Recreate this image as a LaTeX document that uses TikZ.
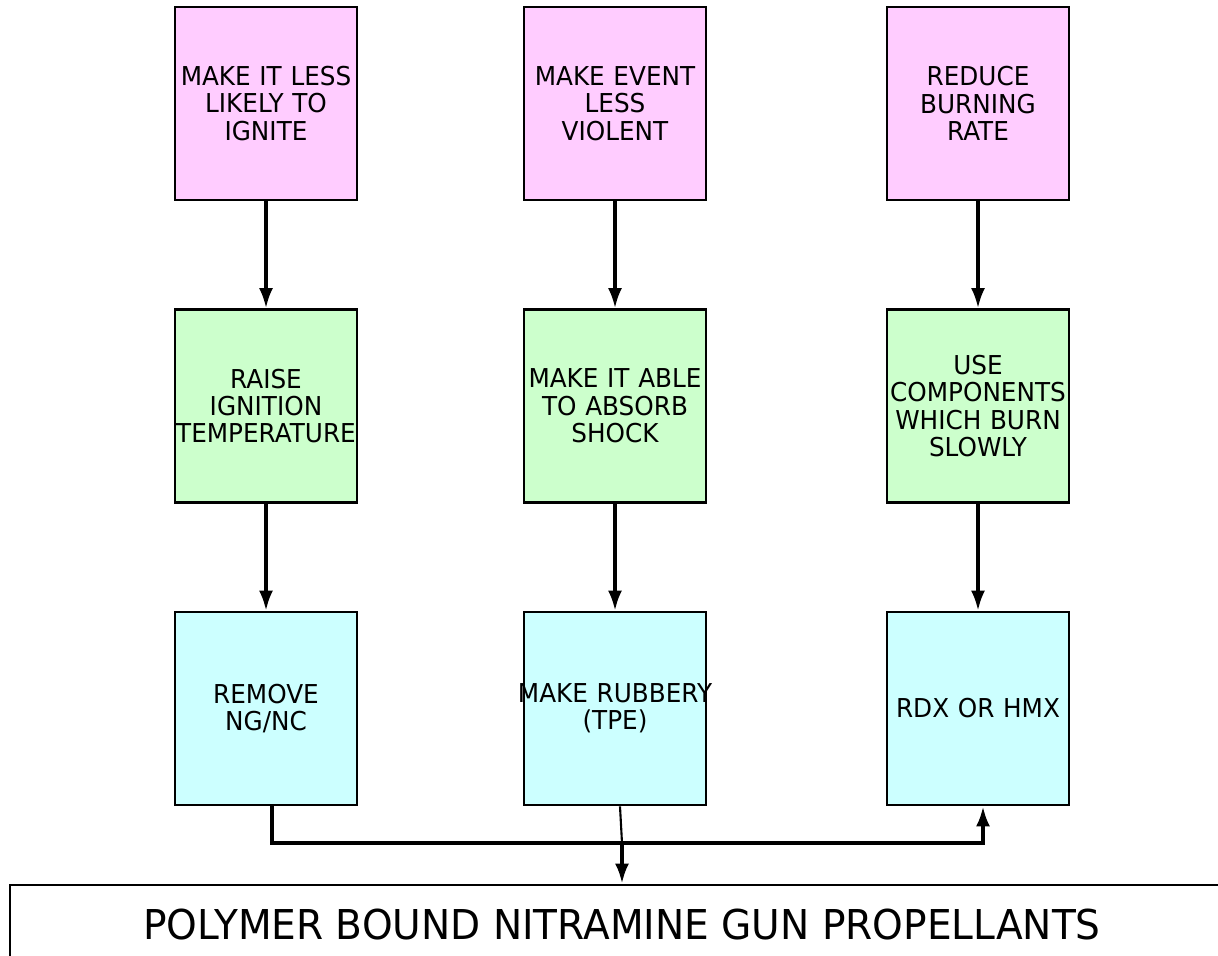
\documentclass[tikz,border=0pt]{standalone}
\usepackage{fontspec}
\setmainfont{DejaVu Sans}[FakeStretch=0.95]
\usetikzlibrary{arrows.meta}
\definecolor{goalpink}{RGB}{255,204,255}
\definecolor{waygreen}{RGB}{204,255,204}
\definecolor{meanscyan}{RGB}{204,255,255}

\tikzstyle{block} = [draw, align = center, text width = 1.82cm, minimum height = 1.93cm, minimum width = 1.82cm, inner sep = 0pt, line width = 0.8pt, font = \fontsize{7.4}{7.8}\selectfont]
\tikzstyle{goal} = [block, fill = goalpink]
\tikzstyle{way} = [block, fill = waygreen]
\tikzstyle{means} = [block, fill = meanscyan]
\tikzset{>={Latex[length = 2mm, width = 1.4mm]}}

\begin{document}
\begin{tikzpicture}
		\useasboundingbox (0, 0) rectangle (12.18, -9.56);

		\node [goal] at (2.66, -1.035) (a1) {MAKE IT LESS\\LIKELY TO\\IGNITE};
		\node [goal] at (6.15, -1.035) (a2) {MAKE EVENT\\LESS\\VIOLENT};
		\node [goal] at (9.78, -1.035) (a3) {REDUCE\\BURNING\\RATE};

		\node [way] at (2.66, -4.06) (b1) {RAISE\\IGNITION\\TEMPERATURE};
		\node [way] at (6.15, -4.06) (b2) {MAKE IT ABLE\\TO ABSORB\\SHOCK};
		\node [way] at (9.78, -4.06) (b3) {USE\\COMPONENTS\\WHICH BURN\\SLOWLY};

		\node [means] at (2.66, -7.085) (c1) {REMOVE\\NG/NC};
		\node [means] at (6.15, -7.085) (c2) {\makebox[\linewidth]{MAKE RUBBERY}\\(TPE)};
		\node [means] at (9.78, -7.085) (c3) {RDX OR HMX};

		\node [draw, line width = 0.8pt, minimum width = 12.24cm, minimum height = 0.8cm, font = \fontsize{11.7}{12}\selectfont] at (6.22, -9.25) (d) {POLYMER BOUND NITRAMINE GUN PROPELLANTS};
		\coordinate (j) at (6.22, -8.43);

		\draw [->,line width = 0.9pt] (a1) -- (b1);
		\draw [->,line width = 0.9pt] (a2) -- (b2);
		\draw [->,line width = 0.9pt] (a3) -- (b3);
		\draw [->,line width = 0.9pt] (b1) -- (c1);
		\draw [->,line width = 0.9pt] (b2) -- (c2);
		\draw [->,line width = 0.9pt] (b3) -- (c3);

		\draw [->,line width = 1pt] ([xshift = 0.6mm]c1.south) |- (j) -| ([xshift = 0.5mm]c3.south);
		\draw [semithick] ([xshift = 0.5mm]c2.south) -- (j);
		\draw [->,line width = 1pt] (j) -- (d);
	\end{tikzpicture}
\end{document}
